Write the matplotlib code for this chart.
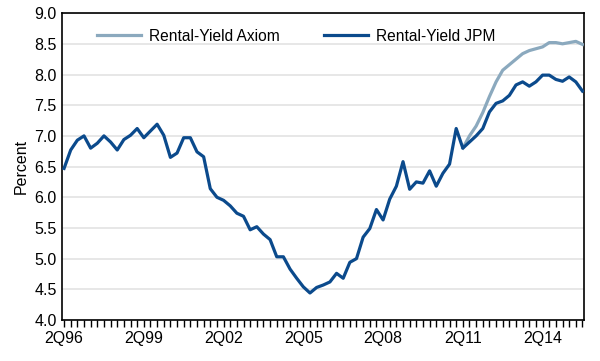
import numpy as np
import matplotlib
matplotlib.use("Agg")
import matplotlib.pyplot as plt

# quarterly rental yields, 2Q96 .. 4Q15
quarters = []
for k in range(79):
    q = (1 + k) % 4 + 1
    yr = 1996 + (1 + k) // 4
    quarters.append("%dQ%02d" % (q, yr % 100))

jpm = [6.47, 6.77, 6.93, 7.00, 6.80, 6.88, 7.00, 6.90, 6.77, 6.94,
       7.01, 7.12, 6.97, 7.08, 7.19, 7.01, 6.65, 6.72, 6.97, 6.97,
       6.74, 6.66, 6.14, 6.00, 5.95, 5.86, 5.74, 5.69, 5.47, 5.52,
       5.40, 5.31, 5.03, 5.03, 4.83, 4.68, 4.54, 4.44, 4.53, 4.57,
       4.62, 4.76, 4.68, 4.94, 5.00, 5.35, 5.49, 5.80, 5.63, 5.97,
       6.18, 6.58, 6.13, 6.25, 6.23, 6.43, 6.18, 6.39, 6.54, 7.12,
       6.80, 6.90, 7.00, 7.12, 7.39, 7.53, 7.57, 7.66, 7.83, 7.88,
       7.81, 7.88, 7.99, 7.99, 7.92, 7.89, 7.96, 7.88, 7.73]

axiom_start = "2Q11"
axiom = [6.80, 7.00, 7.16, 7.38, 7.64, 7.88, 8.07, 8.16, 8.25, 8.34,
         8.39, 8.42, 8.45, 8.52, 8.52, 8.50, 8.52, 8.54, 8.49]

tick_labels = ["2Q96", "2Q99", "2Q02", "2Q05", "2Q08", "2Q11", "2Q14"]

plt.rcParams['font.family'] = ['Liberation Sans', 'DejaVu Sans']

fig = plt.figure(figsize=(6, 3.61), dpi=100)
ax = fig.add_axes([0.104, 0.1136, 0.869, 0.850])

x = np.arange(len(quarters))
i0 = quarters.index(axiom_start)
xa = np.arange(i0, i0 + len(axiom))

ax.plot(xa, axiom, color='#8ba9be', linewidth=2.3, label='Rental-Yield Axiom', zorder=3)
ax.plot(x, jpm, color='#0b4a8c', linewidth=2.3, label='Rental-Yield JPM', zorder=4)

ax.set_ylim(4.0, 9.0)
ax.set_yticks(np.arange(4.0, 9.01, 0.5))
ax.set_yticklabels(["%.1f" % v for v in np.arange(4.0, 9.01, 0.5)])
ax.set_xlim(-0.25, 78.2)
ax.set_xticks([quarters.index(t) for t in tick_labels])
ax.set_xticklabels(tick_labels)
ax.set_xticks(np.arange(0, 79, 1), minor=True)
ax.tick_params(axis='x', which='both', direction='out', length=5, width=1, pad=3, labelsize=11.5)
ax.tick_params(axis='y', length=0, pad=4, labelsize=11.5)

ax.grid(axis='y', color='#e3e3e3', linewidth=1.2)
ax.set_axisbelow(True)
for s in ax.spines.values():
    s.set_color('black')
    s.set_linewidth(1.2)

ax.set_ylabel("Percent", fontsize=11.5, labelpad=4)
ax.legend(loc='upper left', bbox_to_anchor=(0.04, 0.995), ncol=2, frameon=False,
          handlelength=2.8, handletextpad=0.5, columnspacing=2.9, fontsize=11.2,
          borderaxespad=0.5)

fig.savefig('out.png', dpi=100)
